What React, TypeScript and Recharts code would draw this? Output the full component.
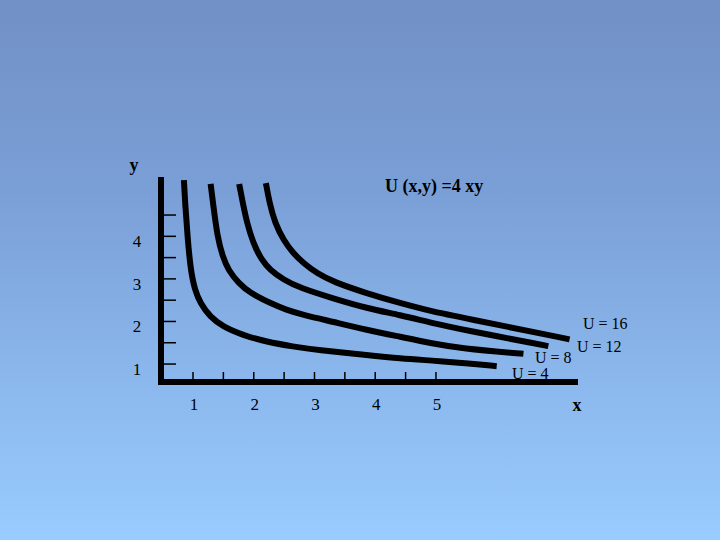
import React from "react";
import { LineChart, Line, XAxis, YAxis } from "recharts";

// indifference curves of U(x,y) = 4xy
const X_TICKS = [1, 1.5, 2, 2.5, 3, 3.5, 4, 4.5, 5];
const Y_TICKS = [1, 1.5, 2, 2.5, 3, 3.5, 4, 4.5];

const U4 = [
  { x: 0.85, y: 5.32 },
  { x: 0.87, y: 4.78 },
  { x: 0.91, y: 3.99 },
  { x: 0.96, y: 3.21 },
  { x: 1.03, y: 2.74 },
  { x: 1.12, y: 2.43 },
  { x: 1.28, y: 2.11 },
  { x: 1.49, y: 1.88 },
  { x: 1.82, y: 1.68 },
  { x: 2.21, y: 1.52 },
  { x: 2.65, y: 1.41 },
  { x: 3.04, y: 1.33 },
  { x: 3.86, y: 1.21 },
  { x: 4.41, y: 1.13 },
  { x: 4.95, y: 1.08 },
  { x: 5.4, y: 1.03 },
  { x: 6.0, y: 0.95 },
];

const U8 = [
  { x: 1.29, y: 5.23 },
  { x: 1.33, y: 4.78 },
  { x: 1.4, y: 3.99 },
  { x: 1.49, y: 3.52 },
  { x: 1.58, y: 3.21 },
  { x: 1.75, y: 2.9 },
  { x: 1.94, y: 2.67 },
  { x: 2.27, y: 2.43 },
  { x: 2.54, y: 2.27 },
  { x: 2.8, y: 2.16 },
  { x: 3.31, y: 1.99 },
  { x: 3.86, y: 1.8 },
  { x: 4.41, y: 1.64 },
  { x: 4.95, y: 1.48 },
  { x: 5.4, y: 1.37 },
  { x: 6.44, y: 1.24 },
];

const U12 = [
  { x: 1.76, y: 5.23 },
  { x: 1.82, y: 4.78 },
  { x: 1.89, y: 4.31 },
  { x: 1.99, y: 3.84 },
  { x: 2.13, y: 3.44 },
  { x: 2.27, y: 3.21 },
  { x: 2.49, y: 2.98 },
  { x: 2.76, y: 2.79 },
  { x: 3.31, y: 2.54 },
  { x: 3.86, y: 2.31 },
  { x: 4.41, y: 2.15 },
  { x: 4.95, y: 1.96 },
  { x: 5.4, y: 1.82 },
  { x: 6.85, y: 1.42 },
];

const U16 = [
  { x: 2.2, y: 5.25 },
  { x: 2.26, y: 4.78 },
  { x: 2.35, y: 4.31 },
  { x: 2.49, y: 3.91 },
  { x: 2.65, y: 3.6 },
  { x: 2.82, y: 3.37 },
  { x: 3.04, y: 3.13 },
  { x: 3.31, y: 2.93 },
  { x: 3.86, y: 2.66 },
  { x: 4.41, y: 2.43 },
  { x: 4.95, y: 2.23 },
  { x: 5.4, y: 2.1 },
  { x: 7.2, y: 1.58 },
];

const CURVES = [U4, U8, U12, U16];
const CURVE_LABELS = ["U = 4", "U = 8", "U = 12", "U = 16"];
const TITLE = "U (x,y) =4 xy";

const FONT = "'Liberation Serif', 'Times New Roman', serif";

function XTick({ x, y, payload }: any) {
  const v = payload.value;
  return (
    <g>
      <line x1={x} y1={y} x2={x} y2={y - 10} stroke="#000" strokeWidth={1.5} />
      {Number.isInteger(v) && (
        <text x={x + 1} y={y + 28} textAnchor="middle" fontSize={17} fontFamily={FONT} fill="#000">
          {v}
        </text>
      )}
    </g>
  );
}

function YTick({ x, y, payload }: any) {
  const v = payload.value;
  return (
    <g>
      <line x1={x} y1={y} x2={x + 15} y2={y} stroke="#000" strokeWidth={1.5} />
      {Number.isInteger(v) && (
        <text x={x - 24} y={y + 11} textAnchor="middle" fontSize={17} fontFamily={FONT} fill="#000">
          {v}
        </text>
      )}
    </g>
  );
}

// label anchors (left, baseline) next to each curve end
const LABEL_POS = [
  [512, 379],
  [535, 363],
  [577, 352],
  [583, 329],
];

export default function App() {
  return (
    <div
      style={{
        position: "absolute",
        left: 0,
        top: 0,
        width: 720,
        height: 540,
        background: "linear-gradient(to bottom, #7190c6 0%, #7a9fd6 35%, #99ccff 100%)",
      }}
    >
      <LineChart width={720} height={540} margin={{ top: 180, right: 145, bottom: 0, left: 0 }}>
        <XAxis
          type="number"
          dataKey="x"
          domain={[0.473, 7.289]}
          allowDataOverflow
          ticks={X_TICKS}
          height={158}
          tickSize={0}
          tickMargin={0}
          tickLine={false}
          axisLine={{ stroke: "#000", strokeWidth: 6, strokeLinecap: "square" }}
          tick={<XTick />}
          interval={0}
        />
        <YAxis
          type="number"
          dataKey="y"
          domain={[0.578, 5.323]}
          allowDataOverflow
          ticks={Y_TICKS}
          width={161}
          tickSize={0}
          tickMargin={0}
          tickLine={false}
          axisLine={{ stroke: "#000", strokeWidth: 6, strokeLinecap: "square" }}
          tick={<YTick />}
          interval={0}
        />
        {CURVES.map((d, i) => (
          <Line
            key={CURVE_LABELS[i]}
            data={d}
            dataKey="y"
            type="basis"
            stroke="#000"
            strokeWidth={6}
            dot={false}
            activeDot={false}
            isAnimationActive={false}
          />
        ))}
      </LineChart>
      <svg
        width={720}
        height={540}
        style={{ position: "absolute", left: 0, top: 0, pointerEvents: "none" }}
        fontFamily={FONT}
        fill="#000"
      >
        <text x={134} y={171} textAnchor="middle" fontSize={18} fontWeight="bold">
          y
        </text>
        <text x={577} y={411} textAnchor="middle" fontSize={18} fontWeight="bold">
          x
        </text>
        <text x={385} y={192} fontSize={18} fontWeight="bold">
          {TITLE}
        </text>
        {CURVE_LABELS.map((t, i) => (
          <text key={t} x={LABEL_POS[i][0]} y={LABEL_POS[i][1]} fontSize={16}>
            {t}
          </text>
        ))}
      </svg>
    </div>
  );
}
